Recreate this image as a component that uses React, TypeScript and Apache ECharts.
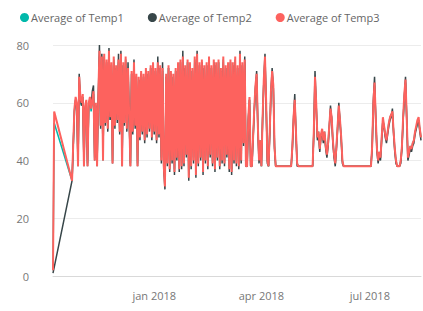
import { useEffect, useRef } from "react";
import * as echarts from "echarts";

const startDate = Date.UTC(2017, 9, 8);
const dayMs = 86400000;
const tickDates = [Date.UTC(2018, 0, 1), Date.UTC(2018, 3, 1), Date.UTC(2018, 6, 1)];
const tickLabels = ["jan 2018", "apr 2018", "jul 2018"];
const yTicks = [0, 20, 40, 60, 80];
const seriesNames = ["Average of Temp1", "Average of Temp2", "Average of Temp3"];
const colors = ["#01B8AA", "#374649", "#FD625E"];
const N = null;

const temp1 = [
  2, 53, N, N, N, N, N, N, N, N,
  N, N, N, N, N, N, 33, 45, 57, 61,
  59, 39, 67, 61, 59, 62, 39, 58, 60, 39,
  59, 61, 57, 60, 63, 41, 59, 39, 61, 76,
  52, 75, 41, 75, 53, 74, 51, 76, 54, 73,
  40, 74, 52, 72, 54, 74, 51, 75, 39, 73,
  53, 74, 51, 71, 54, 39, 70, 50, 73, 52,
  69, 39, 68, 48, 70, 50, 69, 48, 71, 49,
  70, 51, 72, 48, 72, 50, 71, 48, 73, 49,
  72, 41, 71, 39, 33, 69, 40, 72, 38, 70,
  41, 69, 37, 71, 41, 73, 38, 74, 39, 74,
  40, 72, 42, 74, 35, 73, 39, 71, 41, 74,
  36, 75, 40, 73, 41, 74, 37, 72, 40, 73,
  39, 74, 42, 72, 40, 74, 38, 73, 41, 74,
  39, 71, 41, 74, 40, 72, 42, 73, 38, 74,
  37, 73, 40, 74, 40, 72, 39, 75, 40, 73,
  46, 74, 38, 38, 54, 61, 38, 38, 48, 57,
  65, 69, 52, 40, 47, 38, 55, 67, 75, 59,
  40, 38, 50, 63, 70, 65, 45, 38, 38, 38,
  38, 38, 38, 38, 38, 38, 38, 38, 38, 38,
  38, 45, 54, 60, 50, 39, 38, 38, 38, 38,
  38, 38, 38, 38, 38, 38, 38, 38, 38, 50,
  68, 59, 48, 50, 44, 49, 50, 47, 50, 45,
  42, 46, 52, 57, 55, 47, 42, 39, 45, 52,
  58, 54, 48, 40, 38, 38, 38, 38, 38, 38,
  38, 38, 38, 38, 38, 38, 38, 38, 38, 38,
  38, 38, 38, 38, 38, 38, 38, 38, 45, 59,
  66, 55, 44, 40, 43, 41, 48, 54, 52, 49,
  47, 50, 53, 55, 56, 56, 50, 44, 40, 38,
  38, 38, 40, 45, 54, 62, 67, 55, 41, 43,
  45, 44, 46, 47, 50, 51, 53, 54, 51, 48,
];

const temp2 = [
  1, N, N, N, N, N, N, N, N, N,
  N, N, N, N, N, N, 33, 45, 57, 61,
  59, 38, 70, 61, 59, 62, 38, 58, 60, 38,
  59, 61, 59, 64, 66, 40, 59, 38, 61, 80,
  51, 77, 40, 76, 52, 74, 50, 79, 54, 73,
  39, 75, 51, 72, 53, 77, 49, 78, 38, 73,
  52, 75, 50, 74, 54, 38, 70, 49, 75, 51,
  69, 38, 68, 47, 70, 49, 69, 46, 71, 48,
  70, 50, 72, 47, 73, 49, 71, 46, 76, 48,
  72, 39, 74, 37, 30, 69, 38, 72, 36, 70,
  39, 69, 35, 71, 40, 73, 36, 74, 37, 78,
  38, 72, 41, 74, 33, 73, 37, 71, 39, 75,
  34, 78, 38, 73, 40, 74, 35, 72, 39, 73,
  37, 75, 41, 72, 38, 74, 36, 73, 40, 74,
  37, 71, 39, 75, 38, 72, 41, 73, 36, 74,
  35, 73, 39, 75, 38, 72, 37, 78, 39, 73,
  45, 76, 38, 38, 54, 61, 38, 38, 47, 57,
  65, 71, 51, 39, 46, 38, 54, 67, 77, 59,
  39, 38, 49, 63, 72, 65, 44, 38, 38, 38,
  38, 38, 38, 38, 38, 38, 38, 38, 38, 38,
  38, 44, 55, 63, 49, 38, 38, 38, 38, 38,
  38, 38, 38, 38, 38, 38, 38, 38, 38, 49,
  71, 59, 47, 49, 43, 48, 50, 46, 49, 44,
  41, 45, 51, 59, 54, 46, 41, 38, 44, 51,
  60, 53, 47, 39, 38, 38, 38, 38, 38, 38,
  38, 38, 38, 38, 38, 38, 38, 38, 38, 38,
  38, 38, 38, 38, 38, 38, 38, 38, 44, 61,
  69, 54, 43, 39, 42, 40, 47, 54, 51, 48,
  46, 49, 52, 54, 55, 58, 49, 43, 39, 38,
  38, 38, 39, 44, 54, 62, 69, 54, 40, 42,
  44, 43, 45, 46, 49, 51, 53, 54, 50, 47,
];

const temp3 = [
  2, 57, N, N, N, N, N, N, N, N,
  N, N, N, N, N, N, 33, 46, 58, 62,
  60, 38, 69, 62, 60, 63, 38, 59, 61, 38,
  60, 62, 58, 61, 64, 40, 60, 38, 62, 78,
  52, 76, 40, 77, 53, 75, 51, 78, 55, 74,
  39, 76, 52, 73, 54, 75, 50, 77, 38, 74,
  53, 76, 51, 72, 55, 38, 71, 50, 74, 52,
  70, 38, 69, 48, 71, 50, 70, 47, 72, 49,
  71, 51, 73, 48, 74, 50, 72, 47, 74, 49,
  73, 40, 72, 38, 31, 70, 39, 73, 37, 71,
  40, 70, 36, 72, 41, 74, 37, 75, 38, 76,
  39, 73, 42, 75, 34, 74, 38, 72, 40, 76,
  35, 77, 39, 74, 41, 75, 36, 73, 40, 74,
  38, 76, 42, 73, 39, 75, 37, 74, 41, 75,
  38, 72, 40, 76, 39, 73, 42, 74, 37, 75,
  36, 74, 40, 76, 39, 73, 38, 77, 40, 74,
  46, 75, 38, 38, 55, 62, 38, 38, 48, 58,
  66, 70, 52, 40, 47, 38, 55, 68, 76, 60,
  40, 38, 50, 64, 71, 66, 45, 38, 38, 38,
  38, 38, 38, 38, 38, 38, 38, 38, 38, 38,
  38, 45, 55, 61, 50, 39, 38, 38, 38, 38,
  38, 38, 38, 38, 38, 38, 38, 38, 38, 50,
  69, 60, 48, 50, 44, 49, 51, 47, 50, 45,
  42, 46, 52, 58, 55, 47, 42, 39, 45, 52,
  59, 54, 48, 40, 38, 38, 38, 38, 38, 38,
  38, 38, 38, 38, 38, 38, 38, 38, 38, 38,
  38, 38, 38, 38, 38, 38, 38, 38, 45, 60,
  67, 55, 44, 40, 43, 41, 48, 55, 52, 49,
  47, 50, 53, 55, 56, 57, 50, 44, 40, 38,
  38, 38, 40, 45, 55, 63, 68, 55, 41, 43,
  45, 44, 46, 47, 50, 52, 54, 55, 51, 48,
];

const allSeries = [temp1, temp2, temp3];
const lineWidths = [1.5, 1.5, 2];
const font = "'Segoe UI', 'Open Sans', sans-serif";
const tickDays = tickDates.map((t) => Math.round((t - startDate) / dayMs));

export default function App() {
  const ref = useRef<HTMLDivElement>(null);
  useEffect(() => {
    if (!ref.current) return;
    const chart = echarts.init(ref.current, null, { renderer: "svg" });
    const lastDay = temp3.length - 1;
    chart.setOption({
      animation: false,
      backgroundColor: "#ffffff",
      color: colors,
      legend: {
        top: 7,
        left: 15,
        icon: "circle",
        itemWidth: 9,
        itemHeight: 9,
        itemGap: 24,
        textStyle: { fontSize: 11, color: "#666666", fontFamily: font, padding: [0, 0, 0, -3] },
        data: seriesNames,
      },
      grid: { left: 53, right: 2, top: 45, bottom: 35 },
      xAxis: {
        type: "value",
        min: 0,
        max: lastDay,
        axisLine: { show: true, lineStyle: { color: "#d9d9d9", width: 1 } },
        axisTick: { show: false },
        splitLine: { show: false },
        axisLabel: {
          customValues: tickDays,
          margin: 14,
          fontSize: 11,
          color: "#777777",
          fontFamily: font,
          formatter: (v: number) => {
            const i = tickDays.indexOf(Math.round(v));
            return i >= 0 ? tickLabels[i] : "";
          },
        },
      },
      yAxis: {
        type: "value",
        min: yTicks[0],
        max: yTicks[yTicks.length - 1],
        interval: 20,
        axisLine: { show: false },
        axisTick: { show: false },
        axisLabel: { margin: 24, fontSize: 11, color: "#777777", fontFamily: font },
        splitLine: { lineStyle: { color: "#ececec", width: 1 } },
      },
      series: allSeries.map((arr, si) => ({
        name: seriesNames[si],
        type: "line",
        showSymbol: false,
        symbol: "circle",
        connectNulls: true,
        lineStyle: { width: lineWidths[si], color: colors[si] },
        itemStyle: { color: colors[si] },
        z: 2 + si,
        data: arr
          .map((v, i) => [i, v])
          .filter((p) => p[1] !== null),
      })),
    });
    return () => chart.dispose();
  }, []);
  return <div ref={ref} style={{ width: 423, height: 311, position: "absolute", left: 0, top: 0 }} />;
}
